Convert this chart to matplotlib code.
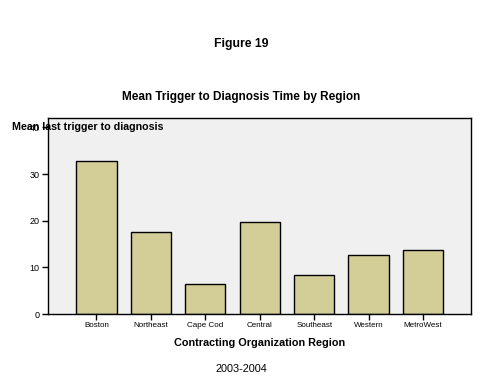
import matplotlib.pyplot as plt
import numpy as np

plt.rcParams['font.family'] = ['Liberation Sans', 'DejaVu Sans']

# data
regions = ['Boston', 'Northeast', 'Cape Cod', 'Central', 'Southeast', 'Western', 'MetroWest']
mean_days = [32.8, 17.6, 6.4, 19.7, 8.3, 12.6, 13.7]
y_ticks = [0, 10, 20, 30, 40]

fig = plt.figure(figsize=(4.82, 3.86), dpi=100)
ax = fig.add_axes([0.0996, 0.1865, 0.8775, 0.5075])
ax.set_facecolor('#F0F0F0')

x = np.arange(len(regions))
ax.bar(x, mean_days, width=0.74, color='#D3CE97', edgecolor='black', linewidth=1)

ax.set_xlim(-0.89, len(regions) - 1 + 0.88)
ax.set_ylim(0, 42)
ax.set_yticks(y_ticks)
ax.set_yticklabels([str(t) for t in y_ticks], fontsize=6.5)
ax.set_xticks(x)
ax.set_xticklabels(regions, fontsize=5.8)
ax.tick_params(axis='both', length=4, width=1, pad=2)
for s in ax.spines.values():
    s.set_linewidth(1)

ax.set_xlabel('Contracting Organization Region', fontsize=7.8, fontweight='bold', labelpad=6)

# titles and labels
fig.text(0.5, 1 - 44 / 386, 'Figure 19', ha='center', va='center', fontsize=8.8, fontweight='bold')
fig.text(0.5, 1 - 97 / 386, 'Mean Trigger to Diagnosis Time by Region', ha='center', va='center',
         fontsize=8.5, fontweight='bold')
fig.text(12 / 482, 1 - 127 / 386, 'Mean last trigger to diagnosis', ha='left', va='center',
         fontsize=7.7, fontweight='bold')
fig.text(0.5, 1 - 369 / 386, '2003-2004', ha='center', va='center', fontsize=7.8)

fig.savefig('out.png', dpi=100)
